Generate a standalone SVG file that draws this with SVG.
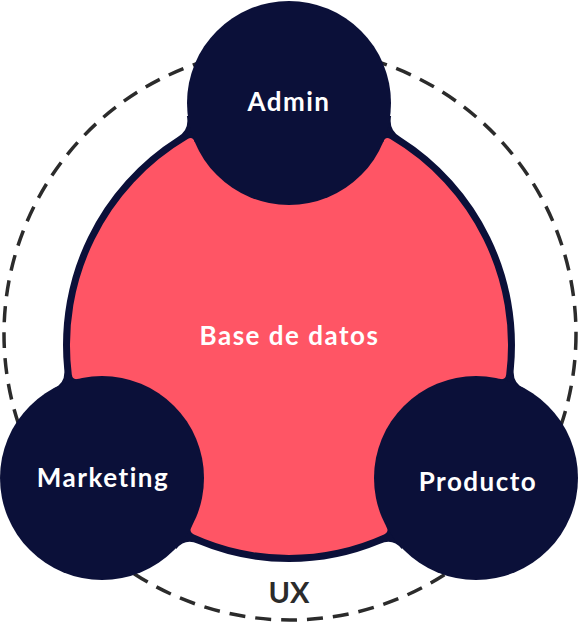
<svg xmlns="http://www.w3.org/2000/svg" width="580" height="624" viewBox="0 0 580 624">
  <style>
    .navy { fill: #0b1039; }
    .red { fill: #ff5565; }
    .lbl { font-family: Lato, "Open Sans", "Liberation Sans", sans-serif; font-weight: 700; fill: #ffffff; text-anchor: middle; letter-spacing: 1.5px; }
    .ux-ring { fill: none; stroke: #2b2b2b; stroke-width: 3.5; stroke-dasharray: 16 10; }
    .ux-lbl { font-family: Lato, "Open Sans", "Liberation Sans", sans-serif; font-weight: 700; fill: #2b2b2b; text-anchor: middle; }
  </style>
  <rect width="580" height="624" fill="#ffffff"/>

  <g id="ux">
    <circle class="ux-ring" cx="290" cy="334" r="286"/>
    <text class="ux-lbl" x="289" y="603" font-size="29">UX</text>
  </g>

  <g id="node-base">
    <path class="navy" d="M 186.9,116.1 Q 189.6,129.9 177.7,137.0 A 246 246 0 0 0 64.2,369.0 Q 65.9,383.0 53.2,389.0 L 176.2,549.0 Q 185.1,538.1 197.9,543.8 A 237 237 0 0 0 380.1,543.8 Q 392.9,538.1 401.8,549.0 L 524.8,389.0 Q 512.1,383.0 513.8,369.0 A 246 246 0 0 0 400.3,137.0 Q 388.4,129.9 391.1,116.1 Z"/>
    <path class="red" d="M 194.7,141.9 Q 192.6,136.2 187.7,139.1 A 239 239 0 0 0 71.8,374.5 Q 72.6,380.4 78.4,378.8 L 191.6,526.7 Q 188.5,531.9 194.0,534.5 A 230 230 0 0 0 384.0,534.5 Q 389.5,531.9 386.4,526.7 L 499.6,378.8 Q 505.4,380.4 506.2,374.5 A 239 239 0 0 0 390.3,139.1 Q 385.4,136.2 383.3,141.9 Z"/>
    <text class="lbl" x="289.5" y="345" font-size="26">Base de datos</text>
  </g>

  <g id="node-admin">
    <circle class="navy" cx="289" cy="103" r="102"/>
    <text class="lbl" x="289" y="111" font-size="26">Admin</text>
  </g>

  <g id="node-marketing">
    <circle class="navy" cx="102" cy="478" r="102"/>
    <text class="lbl" x="103" y="487" font-size="26">Marketing</text>
  </g>

  <g id="node-producto">
    <circle class="navy" cx="476" cy="478" r="102"/>
    <text class="lbl" x="478" y="491" font-size="26">Producto</text>
  </g>
</svg>
